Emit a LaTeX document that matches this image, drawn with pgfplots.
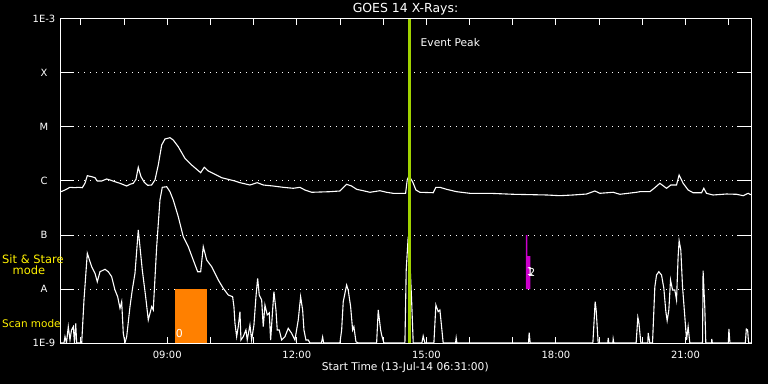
\documentclass[border=0pt]{standalone}
\usepackage{fontspec}
\setmainfont{DejaVu Sans}
\usepackage{pgfplots}
\pgfplotsset{compat=1.18}
\definecolor{peakgreen}{RGB}{160,210,0}
\definecolor{scanorange}{RGB}{255,128,0}
\definecolor{ssmag}{RGB}{204,0,204}
\begin{document}
\begin{tikzpicture}[x=1bp,y=1bp]
\fill[black] (0,0) rectangle (768,384);
\useasboundingbox (0,0) rectangle (768,384);
\begin{axis}[
  at={(60bp,41bp)}, anchor=south west, scale only axis,
  width=691bp, height=324bp,
  xmin=6.5167, xmax=22.5167, ymin=-9, ymax=-3,
  axis line style={white, line width=1bp},
  tick style={white, line width=1bp},
  major tick length=5.7bp, minor tick length=5.7bp,
  ytick style={/pgfplots/major tick length=14bp},
  xtick={9,12,15,18,21},
  xticklabels={09:00,12:00,15:00,18:00,21:00},
  minor xtick={7,8,10,11,13,14,16,17,19,20,22},
  ytick={-9,-8,-7,-6,-5,-4,-3},
  yticklabels={1E-9,A,B,C,M,X,1E-3},
  tick label style={text=white, font=\fontsize{10}{12}\selectfont},
  yticklabel style={anchor=center, xshift=-16bp},
  xticklabel style={anchor=center, yshift=-12.3bp},
  ymajorgrids,
  major grid style={white, line width=1bp, dash pattern=on 1bp off 5bp},
]
\addplot[white, line width=1.1bp] coordinates {
(6.517,-6.198) (6.540,-6.198) (6.632,-6.167) (6.748,-6.117) (6.864,-6.124) (6.940,-6.117) (7.033,-6.124) (7.095,-6.043) (7.149,-5.902) (7.250,-5.920) (7.327,-5.939) (7.380,-6.000) (7.482,-6.000) (7.598,-5.963) (7.674,-5.981) (7.790,-6.013) (7.906,-6.043) (8.061,-6.093) (8.137,-6.061) (8.213,-6.043) (8.276,-5.969) (8.329,-5.746) (8.392,-5.920) (8.468,-6.024) (8.547,-6.080) (8.639,-6.074) (8.716,-5.981) (8.792,-5.704) (8.871,-5.333) (8.947,-5.222) (9.063,-5.198) (9.139,-5.241) (9.255,-5.365) (9.410,-5.580) (9.565,-5.704) (9.681,-5.783) (9.774,-5.846) (9.857,-5.746) (9.950,-5.815) (10.105,-5.876) (10.260,-5.939) (10.413,-5.969) (10.568,-6.000) (10.683,-6.031) (10.915,-6.074) (11.084,-6.031) (11.223,-6.074) (11.454,-6.093) (11.686,-6.117) (11.917,-6.135) (12.072,-6.117) (12.188,-6.167) (12.343,-6.209) (12.767,-6.198) (12.998,-6.185) (13.153,-6.061) (13.269,-6.093) (13.385,-6.154) (13.538,-6.180) (13.693,-6.209) (13.924,-6.180) (14.079,-6.209) (14.232,-6.228) (14.519,-6.228) (14.556,-5.981) (14.595,-5.907) (14.681,-6.013) (14.758,-6.167) (14.850,-6.209) (15.158,-6.217) (15.220,-6.117) (15.313,-6.117) (15.468,-6.154) (15.700,-6.198) (16.007,-6.228) (16.470,-6.228) (17.010,-6.246) (17.783,-6.259) (18.091,-6.272) (18.399,-6.259) (18.709,-6.241) (18.901,-6.185) (19.017,-6.228) (19.325,-6.209) (19.480,-6.246) (19.866,-6.209) (19.943,-6.198) (20.174,-6.198) (20.290,-6.124) (20.406,-6.043) (20.561,-6.135) (20.660,-6.074) (20.792,-6.074) (20.852,-5.889) (20.945,-6.043) (21.061,-6.167) (21.176,-6.217) (21.371,-6.217) (21.424,-6.135) (21.486,-6.228) (21.639,-6.259) (21.949,-6.241) (22.181,-6.246) (22.334,-6.272) (22.450,-6.228) (22.512,-6.254)
};
\addplot[white, line width=1.1bp] coordinates {
(6.517,-9) (6.609,-9) (6.632,-8.883) (6.667,-9) (6.709,-8.698) (6.748,-8.944) (6.783,-8.759) (6.825,-8.698) (6.852,-9) (6.880,-8.635) (6.903,-9) (7.019,-9) (7.072,-8.204) (7.149,-7.339) (7.250,-7.587) (7.327,-7.709) (7.380,-7.865) (7.443,-7.680) (7.558,-7.635) (7.635,-7.680) (7.713,-7.772) (7.790,-8.019) (7.852,-8.143) (7.906,-8.357) (7.945,-8.235) (7.982,-8.820) (8.021,-9) (8.061,-8.883) (8.137,-8.328) (8.190,-8.019) (8.253,-7.709) (8.329,-6.907) (8.368,-7.217) (8.422,-7.648) (8.500,-8.143) (8.561,-8.574) (8.639,-8.328) (8.676,-8.389) (8.755,-7.217) (8.831,-6.352) (8.885,-6.117) (8.987,-6.106) (9.063,-6.198) (9.139,-6.352) (9.255,-6.661) (9.371,-7.031) (9.487,-7.217) (9.602,-7.463) (9.704,-7.680) (9.774,-7.680) (9.834,-7.217) (9.913,-7.463) (10.028,-7.587) (10.181,-7.833) (10.297,-7.987) (10.413,-8.111) (10.514,-8.143) (10.544,-8.328) (10.568,-8.635) (10.607,-8.883) (10.644,-8.698) (10.683,-8.420) (10.707,-8.944) (10.760,-8.883) (10.822,-8.759) (10.852,-8.944) (10.915,-8.667) (10.954,-8.944) (11.007,-8.667) (11.054,-8.143) (11.093,-7.802) (11.130,-8.111) (11.186,-8.204) (11.223,-8.698) (11.262,-8.296) (11.315,-8.481) (11.362,-8.444) (11.394,-8.944) (11.440,-8.389) (11.470,-8.050) (11.517,-8.389) (11.547,-8.759) (11.593,-8.759) (11.649,-8.944) (11.725,-8.883) (11.801,-8.728) (11.880,-8.820) (11.956,-8.944) (12.033,-8.574) (12.088,-8.143) (12.135,-8.389) (12.165,-8.759) (12.211,-8.944) (12.264,-8.944) (12.304,-9) (12.570,-9) (12.598,-8.889) (12.621,-9) (12.998,-9) (13.038,-8.759) (13.075,-8.235) (13.153,-7.926) (13.190,-8.019) (13.246,-8.328) (13.292,-8.759) (13.322,-8.698) (13.369,-8.976) (13.422,-9) (13.848,-9) (13.885,-8.389) (13.941,-8.759) (13.964,-8.852) (14.017,-9) (14.503,-9) (14.533,-7.648) (14.579,-7.031) (14.607,-7.278) (14.658,-8.204) (14.695,-9) (14.896,-9) (14.926,-8.870) (14.966,-9) (15.174,-9) (15.220,-8.296) (15.273,-8.420) (15.313,-8.389) (15.352,-8.698) (15.389,-9) (15.676,-9) (15.690,-8.907) (15.706,-9) (17.365,-9) (17.380,-8.809) (17.403,-9) (18.855,-9) (18.908,-8.235) (18.931,-8.389) (18.978,-9) (19.202,-9) (19.210,-8.907) (19.225,-9) (19.318,-9) (19.325,-8.926) (19.341,-9) (19.857,-9) (19.896,-8.524) (19.919,-8.611) (19.966,-9) (20.128,-9) (20.135,-8.815) (20.174,-9) (20.236,-9) (20.290,-7.957) (20.329,-7.741) (20.382,-7.680) (20.445,-7.741) (20.498,-7.987) (20.545,-8.420) (20.575,-8.587) (20.614,-8.389) (20.653,-7.833) (20.700,-8.019) (20.753,-8.019) (20.792,-8.204) (20.829,-7.402) (20.852,-7.106) (20.891,-7.278) (20.931,-7.957) (20.984,-8.513) (21.024,-8.944) (21.061,-8.698) (21.100,-9) (21.394,-9) (21.407,-7.661) (21.447,-8.357) (21.470,-9) (21.602,-9) (21.609,-8.926) (21.620,-9) (21.991,-9) (22.005,-8.741) (22.028,-9) (22.385,-9) (22.408,-8.741) (22.438,-8.759) (22.461,-9) (22.512,-9)
};
% scan mode interval
\addplot[fill=scanorange, draw=none] coordinates {(9.179,-9) (9.913,-9) (9.913,-8) (9.179,-8)} -- cycle;
% sit and stare interval
\addplot[fill=ssmag, draw=none] coordinates {(17.303,-8) (17.407,-8) (17.407,-7.389) (17.338,-7.389) (17.338,-7) (17.303,-7)} -- cycle;
% event peak
\addplot[peakgreen, line width=2.3bp] coordinates {(14.607,-9) (14.607,-3)};
\node[text=white, font=\fontsize{11}{12}\selectfont, inner sep=0] at (axis cs:9.283,-8.815) {0};
\node[text=white, font=\fontsize{11}{12}\selectfont, inner sep=0] at (axis cs:17.40,-7.685) {1};
\node[text=white, font=\fontsize{11}{12}\selectfont, inner sep=0] at (axis cs:17.44,-7.685) {2};
\end{axis}
\node[text=white, font=\fontsize{12.5}{14}\selectfont, inner sep=0] at (405.5,375) {GOES 14 X-Rays:};
\node[text=white, font=\fontsize{10.7}{12}\selectfont, inner sep=0, anchor=west] at (420.5,341.5) {Event Peak};
\node[text=white, font=\fontsize{10.7}{12}\selectfont, inner sep=0] at (405.3,16) {Start Time (13-Jul-14 06:31:00)};
\node[text=yellow, font=\fontsize{11.5}{12}\selectfont, inner sep=0, anchor=west] at (2,125) {Sit \& Stare};
\node[text=yellow, font=\fontsize{11.5}{12}\selectfont, inner sep=0, anchor=west] at (12.5,113.3) {mode};
\node[text=yellow, font=\fontsize{10.5}{12}\selectfont, inner sep=0, anchor=west] at (2,60) {Scan mode};
\end{tikzpicture}
\end{document}
